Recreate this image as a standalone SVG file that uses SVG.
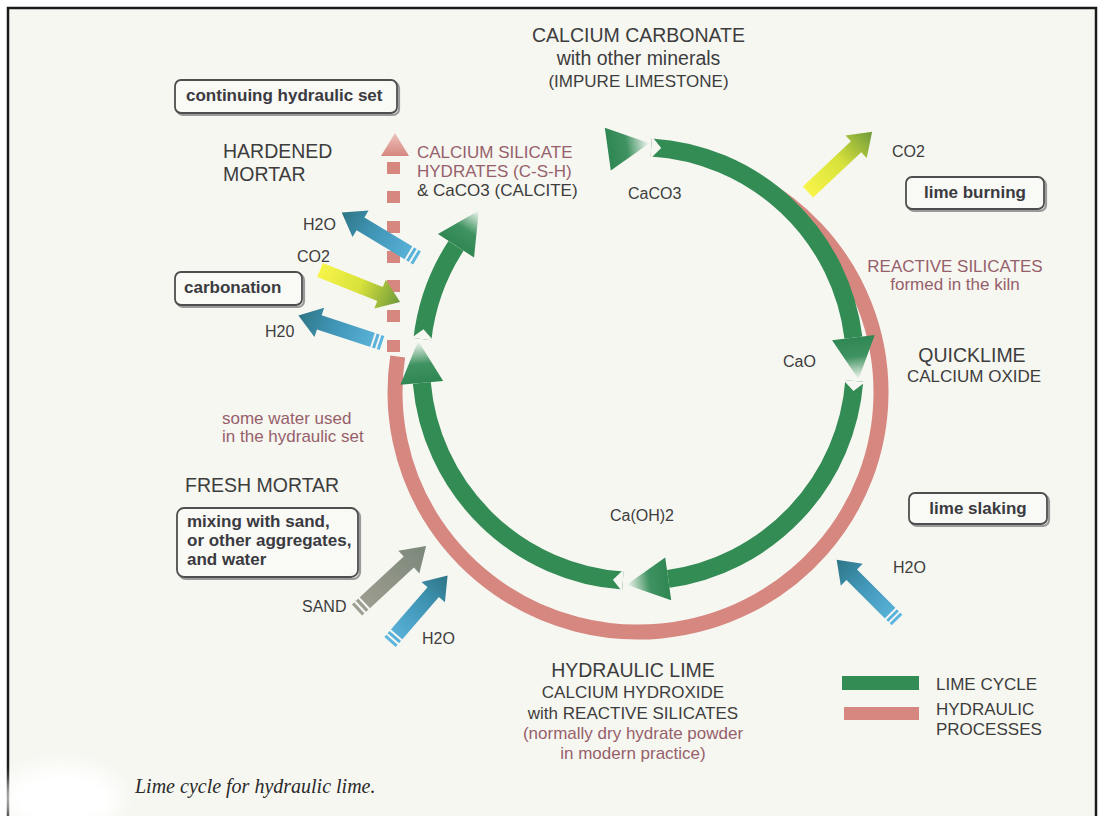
<svg xmlns="http://www.w3.org/2000/svg" xmlns:xlink="http://www.w3.org/1999/xlink" width="1104" height="816" viewBox="0 0 1104 816">
  <style>
    .t { font-family: "Liberation Sans", Arial, sans-serif; fill: #3d3d3d; }
    .m { font-family: "Liberation Sans", Arial, sans-serif; fill: #96606a; }
    .b { font-family: "Liberation Sans", Arial, sans-serif; font-weight: bold; fill: #3a3a40; font-size: 17px; }
    .box { fill: #f9f9f6; stroke: #4e4e4e; stroke-width: 1.8; }
    .shadow { fill: none; stroke: #9a9a9a; stroke-width: 2.2; }
    .green { fill: none; stroke: #348c55; stroke-width: 18; }
    .pink { fill: none; stroke: #d6877f; stroke-width: 15; }
    .notch { fill: #f7f7f2; }
    .stripe { stroke: #f4f6f4; stroke-width: 2; }
    .cap { font-family: "Liberation Serif", "Times New Roman", serif; font-style: italic; fill: #2a2a2a; }
  </style>
  <defs>
    <linearGradient id="gHead" x1="0" y1="0" x2="1" y2="0">
      <stop offset="0" stop-color="#2f8752"/>
      <stop offset="0.45" stop-color="#3f9261"/>
      <stop offset="1" stop-color="#f6f9f3"/>
    </linearGradient>
    <linearGradient id="gPinkTri" x1="0" y1="0" x2="0" y2="1">
      <stop offset="0" stop-color="#ecc2bc"/>
      <stop offset="1" stop-color="#d6877f"/>
    </linearGradient>
    <linearGradient id="gBlue" x1="0" y1="0" x2="1" y2="0">
      <stop offset="0" stop-color="#5db6de"/>
      <stop offset="0.6" stop-color="#3f94b4"/>
      <stop offset="1" stop-color="#2e7585"/>
    </linearGradient>
    <linearGradient id="gYellow" x1="0" y1="0" x2="1" y2="0">
      <stop offset="0" stop-color="#f7f44a"/>
      <stop offset="0.5" stop-color="#d8e23a"/>
      <stop offset="1" stop-color="#6f9a3c"/>
    </linearGradient>
    <linearGradient id="gGray" x1="0" y1="0" x2="1" y2="0">
      <stop offset="0" stop-color="#a09e92"/>
      <stop offset="1" stop-color="#7b887a"/>
    </linearGradient>
    <path id="head" d="M0,-21.5 L42,0 L0,21.5 Z"/>
    <path id="arr" d="M0,-7.5 L66,-7.5 L66,-15.5 L88,0 L66,15.5 L66,7.5 L0,7.5 Z"/>
    <g id="stripes">
      <line class="stripe" x1="4" y1="-9" x2="4" y2="9"/>
      <line class="stripe" x1="9" y1="-9" x2="9" y2="9"/>
    </g>
    <filter id="blur" x="-50%" y="-50%" width="200%" height="200%">
      <feGaussianBlur stdDeviation="8"/>
    </filter>
  </defs>

  <rect x="0" y="0" width="1104" height="816" fill="#ffffff"/>
  <rect x="8" y="8" width="1088" height="830" fill="#f7f7f2" stroke="#1a1a1a" stroke-width="2.5"/>
  <ellipse cx="62" cy="798" rx="58" ry="32" fill="#ffffff" filter="url(#blur)"/>

  <g id="connectors">
    <!-- hydraulic ring -->
    <path class="pink" d="M748.3,178.2 A243,240 0 1,1 397.7,356.5"/>
    <g id="hydraulic-dashes" fill="#d6877f">
      <rect x="387" y="162" width="13" height="12"/>
      <rect x="387" y="191" width="13" height="12"/>
      <rect x="387" y="221" width="13" height="12"/>
      <rect x="387" y="251" width="13" height="12"/>
      <rect x="387" y="280" width="13" height="12"/>
      <rect x="387" y="310" width="13" height="12"/>
      <rect x="387" y="340" width="13" height="12"/>
    </g>
    <path d="M395,133 L409,156 L381,156 Z" fill="url(#gPinkTri)"/>

    <!-- lime cycle ring -->
    <path class="green" d="M651.2,147.4 A217,217 0 0,1 853.4,337.6"/>
    <path class="green" d="M854.3,381.0 A217,217 0 0,1 668.2,578.9"/>
    <path class="green" d="M622.9,580.5 A217,217 0 0,1 421.8,382.9"/>
    <path class="green" d="M422.4,339.1 A217,217 0 0,1 456.0,245.8"/>
    <polygon class="notch" points="651.9,136.4 650.5,158.4 661.2,148.0"/>
    <polygon class="notch" points="865.3,381.9 843.3,380.1 853.5,391.0"/>
    <polygon class="notch" points="622.1,591.5 623.7,569.5 612.9,579.8"/>
    <polygon class="notch" points="411.5,337.8 433.3,340.4 423.5,329.2"/>
    <use xlink:href="#head" href="#head" fill="url(#gHead)" transform="translate(607.8,149.1) rotate(-8)"/>
    <use xlink:href="#head" href="#head" fill="url(#gHead)" transform="translate(853.4,337.6) rotate(83)"/>
    <use xlink:href="#head" href="#head" fill="url(#gHead)" transform="translate(668.2,578.9) rotate(172)"/>
    <use xlink:href="#head" href="#head" fill="url(#gHead)" transform="translate(421.8,382.9) rotate(-95)"/>
    <use xlink:href="#head" href="#head" fill="url(#gHead)" transform="translate(456.0,245.8) rotate(-57)"/>

    <!-- input / output arrows -->
    <g transform="translate(808,192) rotate(-43.2)">
      <use xlink:href="#arr" href="#arr" fill="url(#gYellow)"/>
    </g>
    <g transform="translate(417,258) rotate(-148.8)">
      <use xlink:href="#arr" href="#arr" fill="url(#gBlue)"/>
      <use xlink:href="#stripes" href="#stripes"/>
    </g>
    <g transform="translate(320,270) rotate(21.8) scale(0.98,1)">
      <use xlink:href="#arr" href="#arr" fill="url(#gYellow)"/>
    </g>
    <g transform="translate(382,343) rotate(-161.8)">
      <use xlink:href="#arr" href="#arr" fill="url(#gBlue)"/>
      <use xlink:href="#stripes" href="#stripes"/>
    </g>
    <g transform="translate(357,610) rotate(-42.8) scale(1.07,1)">
      <use xlink:href="#arr" href="#arr" fill="url(#gGray)"/>
      <use xlink:href="#stripes" href="#stripes"/>
    </g>
    <g transform="translate(390,642) rotate(-49.1)">
      <use xlink:href="#arr" href="#arr" fill="url(#gBlue)"/>
      <use xlink:href="#stripes" href="#stripes"/>
    </g>
    <g transform="translate(897,620) rotate(-135) scale(0.97,1)">
      <use xlink:href="#arr" href="#arr" fill="url(#gBlue)"/>
      <use xlink:href="#stripes" href="#stripes"/>
    </g>
  </g>

  <g id="node-calcium-carbonate" text-anchor="middle">
    <text class="t" x="638.5" y="42" font-size="19.5">CALCIUM CARBONATE</text>
    <text class="t" x="638.5" y="65" font-size="19.5">with other minerals</text>
    <text class="t" x="638.5" y="87" font-size="17">(IMPURE LIMESTONE)</text>
  </g>
  <g id="label-caco3"><text class="t" x="628" y="199" font-size="16">CaCO3</text></g>

  <g id="box-continuing">
    <rect class="shadow" x="177" y="82" width="222" height="33" rx="6"/>
    <rect class="box" x="175" y="80" width="222" height="33" rx="6"/>
    <text class="b" x="186" y="101">continuing hydraulic set</text>
  </g>

  <g id="node-hardened-mortar">
    <text class="t" x="223" y="158" font-size="19.5">HARDENED</text>
    <text class="t" x="223" y="181" font-size="19.5">MORTAR</text>
  </g>

  <g id="node-csh">
    <text class="m" x="417" y="158" font-size="17">CALCIUM SILICATE</text>
    <text class="m" x="417" y="177" font-size="17">HYDRATES (C-S-H)</text>
    <text class="t" x="417" y="196" font-size="17">&amp; CaCO3 (CALCITE)</text>
  </g>

  <g id="label-co2-top"><text class="t" x="892" y="157" font-size="16">CO2</text></g>

  <g id="box-lime-burning">
    <rect class="shadow" x="908" y="179" width="138" height="32" rx="6"/>
    <rect class="box" x="906" y="177" width="138" height="32" rx="6"/>
    <text class="b" x="975" y="198" text-anchor="middle">lime burning</text>
  </g>

  <g id="node-reactive-silicates" text-anchor="middle">
    <text class="m" x="955" y="272" font-size="17">REACTIVE SILICATES</text>
    <text class="m" x="955" y="290" font-size="17">formed in the kiln</text>
  </g>

  <g id="label-cao"><text class="t" x="783" y="367" font-size="16">CaO</text></g>

  <g id="node-quicklime" text-anchor="middle">
    <text class="t" x="972" y="362" font-size="19.5">QUICKLIME</text>
    <text class="t" x="974" y="382" font-size="17">CALCIUM OXIDE</text>
  </g>

  <g id="box-lime-slaking">
    <rect class="shadow" x="911" y="495" width="138" height="31" rx="6"/>
    <rect class="box" x="909" y="493" width="138" height="31" rx="6"/>
    <text class="b" x="978" y="514" text-anchor="middle">lime slaking</text>
  </g>

  <g id="label-h2o-right"><text class="t" x="893" y="573" font-size="16">H2O</text></g>
  <g id="label-caoh2"><text class="t" x="642" y="521" font-size="16" text-anchor="middle">Ca(OH)2</text></g>

  <g id="label-h2o-ul"><text class="t" x="303" y="230" font-size="16">H2O</text></g>
  <g id="label-co2-left"><text class="t" x="297" y="262" font-size="16">CO2</text></g>

  <g id="box-carbonation">
    <rect class="shadow" x="177" y="274" width="127" height="33" rx="6"/>
    <rect class="box" x="175" y="272" width="127" height="33" rx="6"/>
    <text class="b" x="184" y="293">carbonation</text>
  </g>

  <g id="label-h20-ll"><text class="t" x="265" y="337" font-size="16">H20</text></g>

  <g id="node-some-water">
    <text class="m" x="222" y="424" font-size="17">some water used</text>
    <text class="m" x="222" y="442" font-size="17">in the hydraulic set</text>
  </g>

  <g id="node-fresh-mortar">
    <text class="t" x="185" y="492" font-size="19.5">FRESH MORTAR</text>
  </g>

  <g id="box-mixing">
    <rect class="shadow" x="179" y="510" width="181" height="69" rx="7"/>
    <rect class="box" x="177" y="508" width="181" height="69" rx="7"/>
    <text class="b" x="187" y="527">mixing with sand,</text>
    <text class="b" x="187" y="546">or other aggregates,</text>
    <text class="b" x="187" y="565">and water</text>
  </g>

  <g id="label-sand"><text class="t" x="302" y="612" font-size="16">SAND</text></g>
  <g id="label-h2o-bottom"><text class="t" x="422" y="644" font-size="16">H2O</text></g>

  <g id="node-hydraulic-lime" text-anchor="middle">
    <text class="t" x="633" y="677" font-size="19.5">HYDRAULIC LIME</text>
    <text class="t" x="633" y="698" font-size="17">CALCIUM HYDROXIDE</text>
    <text class="t" x="633" y="719" font-size="17">with REACTIVE SILICATES</text>
    <text class="m" x="633" y="739" font-size="17">(normally dry hydrate powder</text>
    <text class="m" x="633" y="759" font-size="17">in modern practice)</text>
  </g>

  <g id="legend">
    <rect x="842" y="676" width="77" height="14" fill="#348c55"/>
    <rect x="844" y="707" width="75" height="13" fill="#d6877f"/>
    <text class="t" x="936" y="690" font-size="17">LIME CYCLE</text>
    <text class="t" x="936" y="715" font-size="17">HYDRAULIC</text>
    <text class="t" x="936" y="735" font-size="17">PROCESSES</text>
  </g>

  <g id="caption">
    <text class="cap" x="135" y="793" font-size="20">Lime cycle for hydraulic lime.</text>
  </g>
</svg>
